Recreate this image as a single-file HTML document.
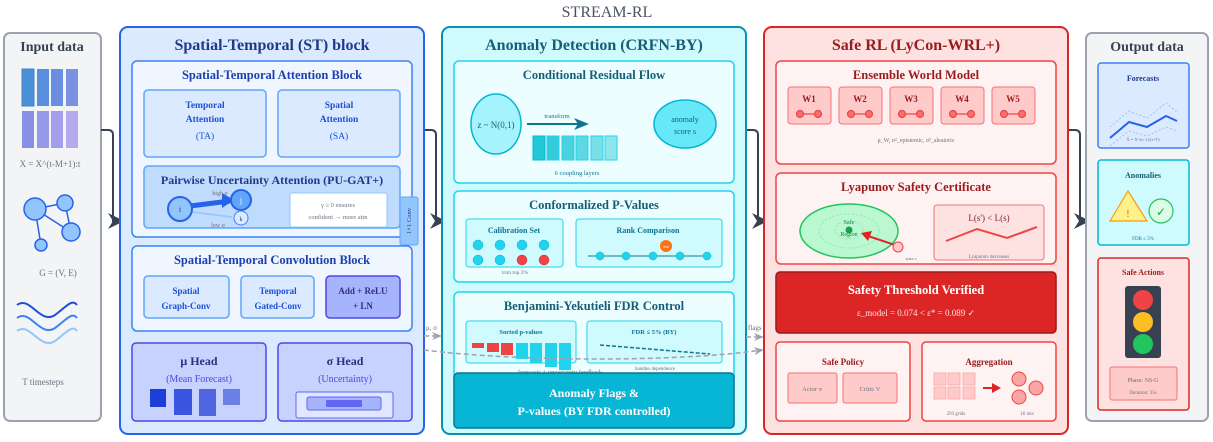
<!DOCTYPE html>
<html><head><meta charset="utf-8"><style>
html,body{margin:0;padding:0;background:#fff;width:1213px;height:442px;overflow:hidden}
svg{display:block;font-family:"Liberation Serif",serif}
</style></head><body>
<svg width="1213" height="442" viewBox="0 0 1213 442" xmlns="http://www.w3.org/2000/svg">
<defs>
<marker id="ah" markerWidth="16" markerHeight="16" refX="13" refY="8" orient="auto" markerUnits="userSpaceOnUse"><path d="M0,0 L16,8 L0,16 L5,8z" fill="#374151"/></marker>
<marker id="gh" markerWidth="10" markerHeight="10" refX="8" refY="5" orient="auto" markerUnits="userSpaceOnUse"><path d="M0,1 L10,5 L0,9 L3,5z" fill="#9ca3af"/></marker>
</defs>
<text x="607" y="17" text-anchor="middle" font-size="16" fill="#4b5563">STREAM-RL</text>

<!-- Input -->
<rect x="4" y="33" width="97" height="388" rx="6" fill="#f3f4f6" stroke="#9ca3af" stroke-width="2"/>
<text x="52" y="51" text-anchor="middle" font-size="14" font-weight="bold" fill="#374151">Input data</text>
<g stroke-width="1">
<rect x="22" y="69" width="12" height="37" fill="#4a90d9" stroke="#4a80c9"/>
<rect x="37" y="69" width="12" height="37" fill="#5890dd"/>
<rect x="51" y="69" width="12" height="37" fill="#6a8fe0"/>
<rect x="66" y="69" width="12" height="37" fill="#7a90e3"/>
<rect x="22" y="111" width="12" height="37" fill="#8890e6"/>
<rect x="37" y="111" width="12" height="37" fill="#9698e8"/>
<rect x="51" y="111" width="12" height="37" fill="#a49feb"/>
<rect x="66" y="111" width="12" height="37" fill="#b4a9ee"/>
</g>
<text x="50" y="167" text-anchor="middle" font-size="9" fill="#6b7280">X = X^(t-M+1):t</text>
<g stroke="#2563eb" stroke-width="1.5" fill="#93c5fd">
<line x1="35" y1="209" x2="65" y2="203"/><line x1="35" y1="209" x2="71" y2="232"/><line x1="65" y1="203" x2="71" y2="232"/><line x1="35" y1="209" x2="41" y2="245"/>
<circle cx="35" cy="209" r="11"/><circle cx="65" cy="203" r="8"/><circle cx="71" cy="232" r="9"/><circle cx="41" cy="245" r="6"/>
</g>
<text x="58" y="276" text-anchor="middle" font-size="9" fill="#6b7280">G = (V, E)</text>
<g fill="none" stroke-width="2">
<path d="M17,305 C30,295 40,325 55,315 C65,308 72,298 77,305" stroke="#1d4ed8"/>
<path d="M17,318 C30,308 40,338 55,328 C65,321 72,311 77,318" stroke="#3b82f6"/>
<path d="M17,331 C30,321 40,351 55,341 C65,334 72,324 77,331" stroke="#93c5fd"/>
</g>
<text x="43" y="385" text-anchor="middle" font-size="9" fill="#6b7280">T timesteps</text>

<!-- main arrows -->
<g fill="none" stroke="#374151" stroke-width="2" marker-end="url(#ah)">
<path d="M101,130 H108 Q113,130 113,135 V221 H121"/>
<path d="M424,130 H431 Q436,130 436,135 V221 H443"/>
<path d="M746,130 H753 Q758,130 758,135 V221 H765"/>
<path d="M1068,130 H1075 Q1080,130 1080,135 V221 H1087"/>
</g>

<!-- ST block -->
<rect x="120" y="27" width="304" height="407" rx="8" fill="#dbeafe" stroke="#2563eb" stroke-width="2"/>
<text x="272" y="50" text-anchor="middle" font-size="16" font-weight="bold" fill="#1e3a8a">Spatial-Temporal (ST) block</text>
<rect x="132" y="61" width="280" height="176" rx="5" fill="#eff6ff" stroke="#3b82f6" stroke-width="1.5"/>
<text x="272" y="79" text-anchor="middle" font-size="12.5" font-weight="bold" fill="#1e40af">Spatial-Temporal Attention Block</text>
<rect x="144" y="90" width="122" height="67" rx="4" fill="#dbeafe" stroke="#60a5fa" stroke-width="1.5"/>
<rect x="278" y="90" width="122" height="67" rx="4" fill="#dbeafe" stroke="#60a5fa" stroke-width="1.5"/>
<g font-size="9.5" text-anchor="middle" fill="#1d4ed8" font-weight="bold">
<text x="205" y="108">Temporal</text><text x="205" y="122">Attention</text><text x="205" y="139" font-weight="normal">(TA)</text>
<text x="339" y="108">Spatial</text><text x="339" y="122">Attention</text><text x="339" y="139" font-weight="normal">(SA)</text>
</g>
<rect x="144" y="166" width="256" height="62" rx="4" fill="#bfdbfe" stroke="#60a5fa" stroke-width="1.5"/>
<text x="272" y="184" text-anchor="middle" font-size="12" font-weight="bold" fill="#1e3a8a">Pairwise Uncertainty Attention (PU-GAT+)</text>
<line x1="190" y1="206" x2="230" y2="201" stroke="#2563eb" stroke-width="5"/>
<path d="M222,193 L234,200 L222,208z" fill="#2563eb"/>
<line x1="192" y1="212" x2="232" y2="217" stroke="#93c5fd" stroke-width="1.5"/>
<text x="220" y="195" font-size="6" fill="#6b7280" text-anchor="middle">high σ</text>
<text x="218" y="227" font-size="6" fill="#6b7280" text-anchor="middle">low σ</text>
<circle cx="180" cy="209" r="12" fill="#93c5fd" stroke="#2563eb" stroke-width="2"/><text x="180" y="212" font-size="8" text-anchor="middle" fill="#1e3a8a">i</text>
<circle cx="241" cy="200" r="10" fill="#60a5fa" stroke="#2563eb" stroke-width="2"/><text x="241" y="203" font-size="8" text-anchor="middle" fill="#fff">j</text>
<circle cx="241" cy="218" r="7" fill="#dbeafe" stroke="#3b82f6" stroke-width="1"/><text x="241" y="221" font-size="6" text-anchor="middle" fill="#1e3a8a">k</text>
<rect x="290" y="193" width="97" height="34" rx="2" fill="#fff" stroke="#93c5fd"/>
<text x="338" y="207" font-size="6.5" text-anchor="middle" fill="#6b7280">γ ≥ 0 ensures</text>
<text x="338" y="219" font-size="6.5" text-anchor="middle" fill="#6b7280">confident → more attn</text>
<rect x="400" y="197" width="18" height="48" rx="2" fill="#93c5fd" stroke="#60a5fa"/>
<text transform="translate(411,221) rotate(-90)" font-size="6.5" text-anchor="middle" fill="#1e3a8a">1×1 Conv</text>

<rect x="132" y="246" width="280" height="85" rx="5" fill="#eff6ff" stroke="#3b82f6" stroke-width="1.5"/>
<text x="272" y="264" text-anchor="middle" font-size="12.5" font-weight="bold" fill="#1e40af">Spatial-Temporal Convolution Block</text>
<rect x="144" y="276" width="85" height="42" rx="4" fill="#dbeafe" stroke="#60a5fa" stroke-width="1.5"/>
<rect x="241" y="276" width="73" height="42" rx="4" fill="#dbeafe" stroke="#60a5fa" stroke-width="1.5"/>
<rect x="326" y="276" width="74" height="42" rx="4" fill="#a5b4fc" stroke="#4f46e5" stroke-width="1.5"/>
<g font-size="9" text-anchor="middle" font-weight="bold">
<text x="186" y="294" fill="#1d4ed8">Spatial</text><text x="186" y="309" fill="#1d4ed8">Graph-Conv</text>
<text x="278" y="294" fill="#1d4ed8">Temporal</text><text x="278" y="309" fill="#1d4ed8">Gated-Conv</text>
<text x="363" y="294" fill="#312e81">Add + ReLU</text><text x="363" y="309" fill="#312e81">+ LN</text>
</g>
<rect x="132" y="343" width="134" height="78" rx="4" fill="#c7d2fe" stroke="#4f46e5" stroke-width="1.5"/>
<rect x="278" y="343" width="134" height="78" rx="4" fill="#c7d2fe" stroke="#4f46e5" stroke-width="1.5"/>
<text x="199" y="365" text-anchor="middle" font-size="12" font-weight="bold" fill="#312e81">μ Head</text>
<text x="199" y="382" text-anchor="middle" font-size="10" fill="#4f46e5">(Mean Forecast)</text>
<text x="345" y="365" text-anchor="middle" font-size="12" font-weight="bold" fill="#312e81">σ Head</text>
<text x="345" y="382" text-anchor="middle" font-size="10" fill="#4f46e5">(Uncertainty)</text>
<rect x="150" y="389" width="16" height="18" fill="#1d3fd8"/>
<rect x="174" y="389" width="18" height="26" fill="#3b55e0"/>
<rect x="199" y="389" width="17" height="27" fill="#4f66e0"/>
<rect x="223" y="389" width="17" height="16" fill="#6b80e6"/>
<rect x="296" y="392" width="97" height="26" rx="2" fill="#e0e7ff" stroke="#6366f1"/>
<rect x="307" y="397" width="74" height="13" rx="2" fill="#a5b4fc" stroke="#6366f1"/>
<rect x="326" y="400" width="36" height="7" rx="1" fill="#6366f1"/>

<!-- AD block -->
<rect x="442" y="27" width="304" height="407" rx="8" fill="#cffafe" stroke="#0891b2" stroke-width="2"/>
<text x="594" y="50" text-anchor="middle" font-size="16" font-weight="bold" fill="#155e75">Anomaly Detection (CRFN-BY)</text>
<rect x="454" y="61" width="280" height="122" rx="5" fill="#ecfeff" stroke="#22d3ee" stroke-width="1.5"/>
<text x="594" y="79" text-anchor="middle" font-size="12.5" font-weight="bold" fill="#155e75">Conditional Residual Flow</text>
<ellipse cx="496" cy="124" rx="25" ry="30" fill="#a5f3fc" stroke="#06b6d4" stroke-width="1.5"/>
<text x="496" y="128" text-anchor="middle" font-size="9" fill="#155e75">z ~ N(0,1)</text>
<line x1="527" y1="124" x2="578" y2="124" stroke="#0e7490" stroke-width="2"/>
<path d="M574,118 L589,124 L574,130 L578,124z" fill="#0e7490"/>
<text x="557" y="118" text-anchor="middle" font-size="6.5" fill="#0e7490">transform</text>
<rect x="533" y="136" width="12" height="24" fill="#22c8d6" stroke="#06b6d4"/>
<rect x="547" y="136" width="12" height="24" fill="#34ccd9" stroke="#22d3ee"/>
<rect x="562" y="136" width="12" height="24" fill="#4ad3de" stroke="#22d3ee"/>
<rect x="576" y="136" width="12" height="24" fill="#5fd8e2" stroke="#22d3ee"/>
<rect x="591" y="136" width="12" height="24" fill="#78dfe7" stroke="#22d3ee"/>
<rect x="605" y="136" width="12" height="24" fill="#90e4ec" stroke="#22d3ee"/>
<text x="577" y="175" text-anchor="middle" font-size="6.5" fill="#0e7490">6 coupling layers</text>
<ellipse cx="685" cy="124" rx="31" ry="24" fill="#67e8f9" stroke="#06b6d4" stroke-width="1.5"/>
<text x="685" y="122" text-anchor="middle" font-size="8" fill="#155e75">anomaly</text>
<text x="685" y="134" text-anchor="middle" font-size="8" fill="#155e75">score s</text>

<rect x="454" y="191" width="280" height="91" rx="5" fill="#ecfeff" stroke="#22d3ee" stroke-width="1.5"/>
<text x="594" y="209" text-anchor="middle" font-size="12.5" font-weight="bold" fill="#155e75">Conformalized P-Values</text>
<rect x="466" y="219" width="97" height="48" rx="3" fill="#cffafe" stroke="#22d3ee"/>
<text x="514" y="233" text-anchor="middle" font-size="8" font-weight="bold" fill="#0e7490">Calibration Set</text>
<g fill="#22d3ee" stroke="#06b6d4" stroke-width="0.5">
<circle cx="478" cy="245" r="5"/><circle cx="500" cy="245" r="5"/><circle cx="522" cy="245" r="5"/><circle cx="544" cy="245" r="5"/>
<circle cx="478" cy="260" r="5"/><circle cx="500" cy="260" r="5"/><circle cx="522" cy="260" r="5" fill="#ef4444" stroke="#dc2626"/><circle cx="544" cy="260" r="5" fill="#ef4444" stroke="#dc2626"/>
</g>
<text x="515" y="274" text-anchor="middle" font-size="5.5" fill="#6b7280">trim top 2%</text>
<rect x="576" y="219" width="146" height="48" rx="3" fill="#cffafe" stroke="#22d3ee"/>
<text x="648" y="233" text-anchor="middle" font-size="8" font-weight="bold" fill="#0e7490">Rank Comparison</text>
<line x1="588" y1="256" x2="710" y2="256" stroke="#0e7490" stroke-width="1"/>
<g fill="#22d3ee" stroke="#06b6d4" stroke-width="0.5"><circle cx="600" cy="256" r="4"/><circle cx="626" cy="256" r="4"/><circle cx="653" cy="256" r="4"/><circle cx="680" cy="256" r="4"/><circle cx="707" cy="256" r="4"/></g>
<circle cx="666" cy="246" r="6" fill="#f97316"/><text x="666" y="248" text-anchor="middle" font-size="4" fill="#fff">test</text>

<rect x="454" y="292" width="280" height="90" rx="5" fill="#ecfeff" stroke="#22d3ee" stroke-width="1.5"/>
<text x="594" y="310" text-anchor="middle" font-size="12.5" font-weight="bold" fill="#155e75">Benjamini-Yekutieli FDR Control</text>
<rect x="466" y="321" width="110" height="42" rx="3" fill="#cffafe" stroke="#22d3ee"/>
<text x="521" y="334" text-anchor="middle" font-size="6.5" font-weight="bold" fill="#0e7490">Sorted p-values</text>
<rect x="472" y="343" width="12" height="5" fill="#ef4444"/>
<rect x="487" y="343" width="12" height="9" fill="#ef4444"/>
<rect x="501" y="343" width="12" height="12" fill="#ef4444"/>
<rect x="516" y="343" width="12" height="16" fill="#22d3ee"/>
<rect x="530" y="343" width="12" height="20" fill="#22d3ee"/>
<rect x="545" y="343" width="12" height="24" fill="#22d3ee"/>
<rect x="559" y="343" width="12" height="27" fill="#22d3ee"/>
<rect x="587" y="321" width="135" height="42" rx="3" fill="#cffafe" stroke="#22d3ee"/>
<text x="654" y="334" text-anchor="middle" font-size="6.5" font-weight="bold" fill="#0e7490">FDR ≤ 5% (BY)</text>
<line x1="600" y1="345" x2="710" y2="354" stroke="#0e7490" stroke-width="1.5" stroke-dasharray="4,2"/>
<text x="655" y="370" text-anchor="middle" font-size="5" fill="#6b7280">handles dependence</text>
<text x="560" y="374" text-anchor="middle" font-size="6.5" fill="#6b7280">forecasts + uncertainty feedback</text>

<!-- dashed feedback -->
<g fill="none" stroke="#9ca3af" stroke-width="1.5" stroke-dasharray="5,3">
<path d="M424,336 H440" marker-end="url(#gh)"/>
<path d="M424,350 C520,362 680,362 762,350" marker-end="url(#gh)"/>
<path d="M746,337 H762" marker-end="url(#gh)"/>
</g>
<text x="426" y="330" font-size="7" fill="#6b7280">μ, σ</text>
<text x="748" y="330" font-size="7" fill="#6b7280">flags</text>

<rect x="454" y="373" width="280" height="55" rx="4" fill="#06b6d4" stroke="#0e7490" stroke-width="1.5"/>
<text x="594" y="397" text-anchor="middle" font-size="12" font-weight="bold" fill="#fff">Anomaly Flags &amp;</text>
<text x="594" y="415" text-anchor="middle" font-size="12" font-weight="bold" fill="#fff">P-values (BY FDR controlled)</text>

<!-- Safe RL -->
<rect x="764" y="27" width="304" height="407" rx="8" fill="#fee2e2" stroke="#dc2626" stroke-width="2"/>
<text x="916" y="50" text-anchor="middle" font-size="16" font-weight="bold" fill="#991b1b">Safe RL (LyCon-WRL+)</text>
<rect x="776" y="61" width="280" height="103" rx="5" fill="#fef2f2" stroke="#ef4444" stroke-width="1.5"/>
<text x="916" y="79" text-anchor="middle" font-size="12.5" font-weight="bold" fill="#991b1b">Ensemble World Model</text>
<g>
<rect x="788" y="87" width="43" height="37" rx="3" fill="#fecaca" stroke="#f87171"/>
<rect x="839" y="87" width="43" height="37" rx="3" fill="#fecaca" stroke="#f87171"/>
<rect x="890" y="87" width="43" height="37" rx="3" fill="#fecaca" stroke="#f87171"/>
<rect x="941" y="87" width="43" height="37" rx="3" fill="#fecaca" stroke="#f87171"/>
<rect x="992" y="87" width="43" height="37" rx="3" fill="#fecaca" stroke="#f87171"/>
</g>
<g font-size="9" font-weight="bold" fill="#991b1b" text-anchor="middle">
<text x="809" y="102">W1</text><text x="860" y="102">W2</text><text x="911" y="102">W3</text><text x="962" y="102">W4</text><text x="1013" y="102">W5</text>
</g>
<g stroke="#ef4444" stroke-width="1.2" fill="#f87171">
<line x1="800" y1="114" x2="818" y2="114"/><circle cx="800" cy="114" r="3.5"/><circle cx="818" cy="114" r="3.5"/>
<line x1="851" y1="114" x2="869" y2="114"/><circle cx="851" cy="114" r="3.5"/><circle cx="869" cy="114" r="3.5"/>
<line x1="902" y1="114" x2="920" y2="114"/><circle cx="902" cy="114" r="3.5"/><circle cx="920" cy="114" r="3.5"/>
<line x1="953" y1="114" x2="971" y2="114"/><circle cx="953" cy="114" r="3.5"/><circle cx="971" cy="114" r="3.5"/>
<line x1="1004" y1="114" x2="1022" y2="114"/><circle cx="1004" cy="114" r="3.5"/><circle cx="1022" cy="114" r="3.5"/>
</g>
<text x="916" y="142" text-anchor="middle" font-size="6" fill="#6b7280">μ_W, σ²_epistemic, σ²_aleatoric</text>

<rect x="776" y="173" width="280" height="91" rx="5" fill="#fef2f2" stroke="#ef4444" stroke-width="1.5"/>
<text x="916" y="191" text-anchor="middle" font-size="12.5" font-weight="bold" fill="#991b1b">Lyapunov Safety Certificate</text>
<ellipse cx="849" cy="231" rx="49" ry="27" fill="#bbf7d0" stroke="#22c55e" stroke-width="1.5"/>
<ellipse cx="849" cy="231" rx="30" ry="17" fill="none" stroke="#86efac" stroke-dasharray="2,2"/>
<ellipse cx="849" cy="230" rx="14" ry="9" fill="none" stroke="#86efac" stroke-dasharray="2,2"/>
<circle cx="849" cy="230" r="3.5" fill="#16a34a"/>
<text x="849" y="224" text-anchor="middle" font-size="6" fill="#15803d">Safe</text>
<text x="849" y="236" text-anchor="middle" font-size="6" fill="#15803d">Region</text>
<line x1="895" y1="245" x2="868" y2="236" stroke="#dc2626" stroke-width="2"/>
<path d="M861,233 L872,231 L868,241z" fill="#dc2626"/>
<circle cx="898" cy="247" r="5" fill="#fecaca" stroke="#ef4444"/>
<text x="911" y="260" text-anchor="middle" font-size="4.5" fill="#6b7280">state s</text>
<rect x="934" y="205" width="110" height="55" rx="3" fill="#fee2e2" stroke="#f87171"/>
<text x="989" y="221" text-anchor="middle" font-size="9" fill="#7f1d1d">L(s') &lt; L(s)</text>
<polyline points="946,241 977,229 1007,238 1037,227" fill="none" stroke="#ef4444" stroke-width="2"/>
<text x="989" y="258" text-anchor="middle" font-size="5" fill="#6b7280">Lyapunov decreases</text>

<rect x="776" y="272" width="280" height="61" rx="4" fill="#dc2626" stroke="#991b1b" stroke-width="1.5"/>
<text x="916" y="294" text-anchor="middle" font-size="12.5" font-weight="bold" fill="#fff">Safety Threshold Verified</text>
<text x="916" y="316" text-anchor="middle" font-size="9" fill="#fee2e2">ε_model = 0.074 &lt; ε* = 0.089 ✓</text>

<rect x="776" y="342" width="134" height="79" rx="4" fill="#fef2f2" stroke="#ef4444" stroke-width="1.5"/>
<text x="843" y="365" text-anchor="middle" font-size="9" font-weight="bold" fill="#991b1b">Safe Policy</text>
<rect x="788" y="373" width="49" height="30" rx="2" fill="#fecaca" stroke="#f87171"/>
<rect x="843" y="373" width="54" height="30" rx="2" fill="#fecaca" stroke="#f87171"/>
<text x="812" y="391" text-anchor="middle" font-size="6.5" fill="#6b7280">Actor π</text>
<text x="870" y="391" text-anchor="middle" font-size="6.5" fill="#6b7280">Critic V</text>
<rect x="922" y="342" width="134" height="79" rx="4" fill="#fef2f2" stroke="#ef4444" stroke-width="1.5"/>
<text x="989" y="365" text-anchor="middle" font-size="9" font-weight="bold" fill="#991b1b">Aggregation</text>
<g fill="#fecaca" stroke="#fca5a5" stroke-width="0.8">
<rect x="934" y="373" width="12" height="12"/><rect x="948" y="373" width="12" height="12"/><rect x="963" y="373" width="12" height="12"/>
<rect x="934" y="387" width="12" height="12"/><rect x="948" y="387" width="12" height="12"/><rect x="963" y="387" width="12" height="12"/>
</g>
<line x1="983" y1="388" x2="994" y2="388" stroke="#dc2626" stroke-width="2"/>
<path d="M992,383 L1001,388 L992,393z" fill="#dc2626"/>
<g fill="#fca5a5" stroke="#ef4444"><circle cx="1019" cy="379" r="7"/><circle cx="1036" cy="388" r="7"/><circle cx="1019" cy="397" r="7"/></g>
<text x="956" y="415" text-anchor="middle" font-size="5" fill="#6b7280">293 grids</text>
<text x="1027" y="415" text-anchor="middle" font-size="5" fill="#6b7280">16 ints</text>

<!-- Output -->
<rect x="1086" y="33" width="122" height="388" rx="6" fill="#f3f4f6" stroke="#9ca3af" stroke-width="2"/>
<text x="1147" y="51" text-anchor="middle" font-size="14" font-weight="bold" fill="#374151">Output data</text>
<rect x="1098" y="63" width="91" height="85" rx="3" fill="#dbeafe" stroke="#3b82f6" stroke-width="1.5"/>
<text x="1143" y="81" text-anchor="middle" font-size="8" font-weight="bold" fill="#1e3a8a">Forecasts</text>
<polyline points="1110,127 1129,111 1147,118 1166,103 1177,112" fill="none" stroke="#93c5fd" stroke-width="1" stroke-dasharray="2,2"/>
<polyline points="1110,138 1129,122 1147,127 1166,116 1177,121" fill="none" stroke="#2563eb" stroke-width="2"/>
<polyline points="1110,146 1129,131 1147,136 1166,127 1177,131" fill="none" stroke="#93c5fd" stroke-width="1" stroke-dasharray="2,2"/>
<text x="1143" y="141" text-anchor="middle" font-size="4.5" fill="#6b7280">X̂ = X^(t+1):(t+T)</text>
<rect x="1098" y="160" width="91" height="85" rx="3" fill="#cffafe" stroke="#06b6d4" stroke-width="1.5"/>
<text x="1143" y="178" text-anchor="middle" font-size="8" font-weight="bold" fill="#155e75">Anomalies</text>
<path d="M1128,191 L1147,221 L1110,221z" fill="#fef08a" stroke="#f59e0b" stroke-width="1.2"/>
<text x="1128" y="217" text-anchor="middle" font-size="11" fill="#d97706">!</text>
<circle cx="1161" cy="211" r="12" fill="#dcfce7" stroke="#22c55e" stroke-width="1.2"/>
<text x="1161" y="216" text-anchor="middle" font-size="12" fill="#16a34a">✓</text>
<text x="1143" y="240" text-anchor="middle" font-size="5" fill="#0e7490">FDR ≤ 5%</text>
<rect x="1098" y="258" width="91" height="152" rx="3" fill="#fee2e2" stroke="#dc2626" stroke-width="1.5"/>
<text x="1143" y="275" text-anchor="middle" font-size="8" font-weight="bold" fill="#991b1b">Safe Actions</text>
<rect x="1125" y="286" width="36" height="72" rx="3" fill="#374151"/>
<circle cx="1143" cy="300" r="10" fill="#ef4444"/>
<circle cx="1143" cy="322" r="10" fill="#fbbf24"/>
<circle cx="1143" cy="344" r="10" fill="#22c55e"/>
<rect x="1110" y="367" width="67" height="33" rx="2" fill="#fecaca" stroke="#f87171"/>
<text x="1143" y="382" text-anchor="middle" font-size="6" fill="#6b7280">Phase: NS-G</text>
<text x="1143" y="394" text-anchor="middle" font-size="5" fill="#6b7280">Duration: 35s</text>
</svg>
</body></html>
